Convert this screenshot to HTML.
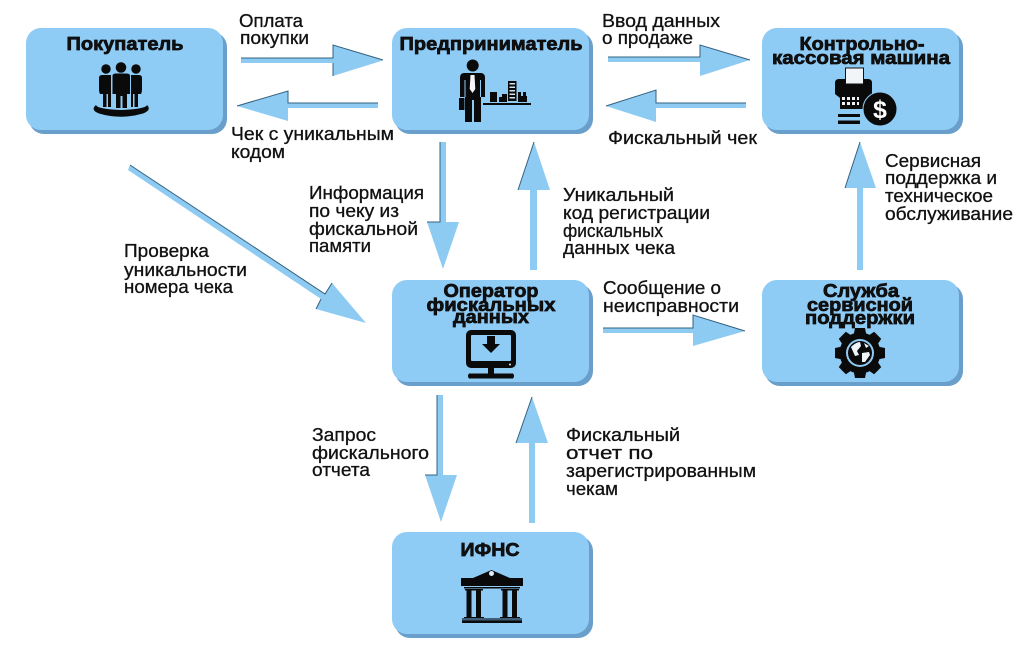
<!DOCTYPE html>
<html lang="ru"><head><meta charset="utf-8"><title>Схема</title>
<style>
html,body{margin:0;padding:0;background:#fff}
svg{display:block}
text{font-family:"Liberation Sans",sans-serif;fill:#111}
.l{font-size:18.5px;stroke:#111;stroke-width:.3px}
.t{font-size:18.5px;font-weight:bold;text-anchor:middle;stroke:#0a0a0a;stroke-width:.7px}
.a{fill:#8ecbf3}
.e{fill:none;stroke:#33607e;stroke-width:1}
</style></head><body>
<svg width="1024" height="648" viewBox="0 0 1024 648" xmlns="http://www.w3.org/2000/svg">
<defs>
<g id="box"><rect x="3" y="4" width="198" height="102" rx="15" fill="#6a9fcb"/><rect width="197" height="102" rx="15" fill="#8ecbf5"/></g>
</defs>

<use href="#box" x="26" y="28"/><use href="#box" x="392" y="28"/><use href="#box" x="762" y="28"/>
<use href="#box" x="392" y="280"/><use href="#box" x="762" y="280"/><use href="#box" x="392" y="532"/>

<!-- arrows -->
<g class="a">
<path d="M241 58H333V45L383 60.500 333 76V63H241Z"/>
<path d="M378 103H288V91L237 106 288 121V108H378Z"/>
<path d="M608 57H700V45L750 60 700 76V62H608Z"/>
<path d="M746 103H656V90L606 106 656 122V108H746Z"/>
<path d="M440 142H446V222H459L443 269 427 222H440Z"/>
<path d="M530 270V190H518L534 142 550 190H537V270Z"/>
<path d="M130 165L128 170 321 299 316 309 366 323 332 283 325 294Z"/>
<path d="M603 328H693V315L745 331 693 346V333H603Z"/>
<path d="M857 270V188H845L860 142 876 188H863V270Z"/>
<path d="M437 395H443V475H457L441 522 425 475H437Z"/>
<path d="M529 523V443H516L532 397 548 443H535V523Z"/>
</g>
<g class="e">
<path d="M241 58H333V45L383 60"/><path d="M333 63V76"/>
<path d="M378 103H288V91L237 106"/>
<path d="M608 57H700V45L750 60"/>
<path d="M746 103H656V90L606 106"/>
<path d="M440 142V222H427"/>
<path d="M518 190L534 142"/>
<path d="M130 165L325 294 332 283"/><path d="M321 299L316 309"/>
<path d="M603 328H693V315L745 331"/>
<path d="M845 188L860 142"/>
<path d="M437 395V475H425"/>
<path d="M516 443L532 397"/>
</g>

<!-- box titles -->
<text class="t" x="125" y="50" textLength="117" lengthAdjust="spacingAndGlyphs">Покупатель</text>
<text class="t" x="491" y="50" textLength="183" lengthAdjust="spacingAndGlyphs">Предприниматель</text>
<text class="t" x="862" y="50" textLength="125" lengthAdjust="spacingAndGlyphs">Контрольно-</text>
<text class="t" x="861" y="64" textLength="178" lengthAdjust="spacingAndGlyphs">кассовая машина</text>
<text class="t" x="491" y="297" textLength="95" lengthAdjust="spacingAndGlyphs">Оператор</text>
<text class="t" x="491" y="311" textLength="129" lengthAdjust="spacingAndGlyphs">фискальных</text>
<text class="t" x="491" y="323" textLength="76" lengthAdjust="spacingAndGlyphs">данных</text>
<text class="t" x="861" y="297" textLength="76" lengthAdjust="spacingAndGlyphs">Служба</text>
<text class="t" x="860" y="311" textLength="106" lengthAdjust="spacingAndGlyphs">сервисной</text>
<text class="t" x="860" y="324" textLength="110" lengthAdjust="spacingAndGlyphs">поддержки</text>
<text class="t" x="490" y="556" textLength="59" lengthAdjust="spacingAndGlyphs">ИФНС</text>

<!-- labels -->
<g class="l">
<text x="239" y="27" textLength="64" lengthAdjust="spacingAndGlyphs">Оплата</text>
<text x="240" y="44" textLength="69" lengthAdjust="spacingAndGlyphs">покупки</text>
<text x="231" y="140" textLength="163" lengthAdjust="spacingAndGlyphs">Чек с уникальным</text>
<text x="231" y="158" textLength="54" lengthAdjust="spacingAndGlyphs">кодом</text>
<text x="602" y="27" textLength="118" lengthAdjust="spacingAndGlyphs">Ввод данных</text>
<text x="602" y="44" textLength="91" lengthAdjust="spacingAndGlyphs">о продаже</text>
<text x="608" y="144" textLength="149" lengthAdjust="spacingAndGlyphs">Фискальный чек</text>
<text x="309" y="199" textLength="115" lengthAdjust="spacingAndGlyphs">Информация</text>
<text x="309" y="217" textLength="90" lengthAdjust="spacingAndGlyphs">по чеку из</text>
<text x="309" y="235" textLength="109" lengthAdjust="spacingAndGlyphs">фискальной</text>
<text x="309" y="252" textLength="62" lengthAdjust="spacingAndGlyphs">памяти</text>
<text x="124" y="257" textLength="85" lengthAdjust="spacingAndGlyphs">Проверка</text>
<text x="124" y="276" textLength="123" lengthAdjust="spacingAndGlyphs">уникальности</text>
<text x="124" y="293" textLength="109" lengthAdjust="spacingAndGlyphs">номера чека</text>
<text x="563" y="201" textLength="111" lengthAdjust="spacingAndGlyphs">Уникальный</text>
<text x="563" y="219" textLength="147" lengthAdjust="spacingAndGlyphs">код регистрации</text>
<text x="563" y="237" textLength="100" lengthAdjust="spacingAndGlyphs">фискальных</text>
<text x="563" y="254" textLength="112" lengthAdjust="spacingAndGlyphs">данных чека</text>
<text x="885" y="167" textLength="96" lengthAdjust="spacingAndGlyphs">Сервисная</text>
<text x="885" y="184" textLength="112" lengthAdjust="spacingAndGlyphs">поддержка и</text>
<text x="885" y="202" textLength="108" lengthAdjust="spacingAndGlyphs">техническое</text>
<text x="885" y="220" textLength="128" lengthAdjust="spacingAndGlyphs">обслуживание</text>
<text x="603" y="294" textLength="118" lengthAdjust="spacingAndGlyphs">Сообщение о</text>
<text x="603" y="312" textLength="136" lengthAdjust="spacingAndGlyphs">неисправности</text>
<text x="312" y="441" textLength="64" lengthAdjust="spacingAndGlyphs">Запрос</text>
<text x="312" y="459" textLength="117" lengthAdjust="spacingAndGlyphs">фискального</text>
<text x="312" y="476" textLength="58" lengthAdjust="spacingAndGlyphs">отчета</text>
<text x="566" y="441" textLength="114" lengthAdjust="spacingAndGlyphs">Фискальный</text>
<text x="566" y="459" textLength="87" lengthAdjust="spacingAndGlyphs">отчет по</text>
<text x="566" y="477" textLength="190" lengthAdjust="spacingAndGlyphs">зарегистрированным</text>
<text x="566" y="495" textLength="52" lengthAdjust="spacingAndGlyphs">чекам</text>
</g>

<!-- icons -->
<g fill="#0a0a0a">
<!-- people -->
<circle cx="106" cy="69" r="4.700"/><circle cx="136" cy="69" r="4.700"/><circle cx="121" cy="67.500" r="5.300"/>
<path d="M99 78Q99 75 102 75H111V107H108V94H106.500V107H103V94H100Q99 92 99 90Z"/>
<path d="M131 75H139Q142 75 142 78V90Q142 92 141 94H138V107H134.500V94H133V107H131Z"/>
<path d="M112.500 76Q112.500 73.500 116 73.500H126Q130 73.500 130 76V94H127V108H122.500V96H120.500V108H116V94H112.500Z"/>
<path d="M96 105Q90 110 99 113.500Q121 120 143 113.500Q152 110 147 105Q146 109 121 110Q97 109 96 105Z"/>
<!-- businessman -->
<circle cx="472.700" cy="65.500" r="6"/>
<path d="M464 73H481Q485 73 485 78V97H481V122H474V100H472V122H465V97H460V78Q460 73 464 73Z"/>
<path d="M459 98h5.500v12h-5.500z"/>
<path d="M464.500 80v17h1v-17zM480 80v17h1v-17z" fill="#8ecbf5"/>
<path d="M470.500 75h4l.8 14-2.800 4-2.800-4z" fill="#f2f6f8"/>
<path d="M483 103h48v2h-48zM490 92h7v10h-7zM499 97h3v5h-3zM502 94h5v8h-5zM518 92h3v10h-3zM523 92h3v10h-3zM518 96h9v6h-9z"/>
<path d="M508 81h8.500v20h-8.500z"/><path d="M509.500 83h5.500v1.500h-5.500zM509.500 86.500h5.500v1.500h-5.500zM509.500 90h5.500v1.500h-5.500zM509.500 93.500h5.500v1.500h-5.500zM509.500 97h5.500v1.500h-5.500z" fill="#cfe3f2"/>
<!-- cash register -->
<path d="M835 83Q835 79 839 79H868Q872 79 872 83V94L867 98V109H840V98L835 94Z"/>
<rect x="845.500" y="68" width="18" height="16" fill="#f2f5f7" stroke="#111" stroke-width="1"/>
<path d="M842 97h3v3h-3zM847 97h3v3h-3zM852 97h3v3h-3zM857 97h2v3h-2zM842 102h3v3h-3zM847 102h3v3h-3zM852 102h3v3h-3zM857 102h2v3h-2z" fill="#eef3f7"/>
<path d="M838 114h22v3h-22zM838 120.500h22v3.500h-22z"/>
<circle cx="880" cy="109" r="17" stroke="#8ecbf5" stroke-width="1"/>
<text x="880" y="118" font-size="25" font-weight="bold" text-anchor="middle" style="fill:#fff">$</text>
<!-- monitor -->
<rect x="466" y="330" width="50" height="38" rx="5"/>
<rect x="471" y="335" width="40" height="26" fill="#8ecbf5" rx="1"/>
<path d="M487 336h8v8h5l-9 9-9-9h5z"/>
<path d="M488 368h6v6h-6zM469 373.500h44q2 2.500 0 5h-44q-2-2.500 0-5z"/>
<circle cx="510" cy="364.500" r="1" fill="#dfeef9"/>
<!-- gear -->
<g transform="translate(860,353)">
<circle r="20.500"/>
<path id="t" d="M-5-25H5L7-15H-7Z"/>
<path d="M-5-25H5L7-15H-7Z" transform="rotate(45)"/><path d="M-5-25H5L7-15H-7Z" transform="rotate(90)"/><path d="M-5-25H5L7-15H-7Z" transform="rotate(135)"/>
<path d="M-5-25H5L7-15H-7Z" transform="rotate(180)"/><path d="M-5-25H5L7-15H-7Z" transform="rotate(225)"/><path d="M-5-25H5L7-15H-7Z" transform="rotate(270)"/><path d="M-5-25H5L7-15H-7Z" transform="rotate(315)"/>
<circle r="14" fill="#8ecbf5"/><circle r="12"/>
<path d="M-9-6q5-5 9-5l1 4-4 5 2 4-4 1zM2 0l7-1 1 3-5 7-3 0zM4-10l5 3-3 2z" fill="#eef4f8"/>
</g>
<!-- bank -->
<path d="M473 578L491.500 570 510 578Z"/><path d="M461 578h62v8h-62z"/>
<circle cx="491.500" cy="573.500" r="2.500" fill="#dfeef9"/>
<path d="M464 587h56v1.500h-56zM465 589h18v1.500h-18zM501 589h18v1.500h-18zM466.500 590h5v28h-5zM476 590h5v28h-5zM502.500 590h5v28h-5zM512 590h5v28h-5zM464 617h20v1.500h-20zM500 617h20v1.500h-20z"/>
<path d="M462 618h60v2.500h-60z" fill="#3f5f78"/><path d="M462 620.500h60v2.500h-60z"/>
</g>
</svg>
</body></html>
